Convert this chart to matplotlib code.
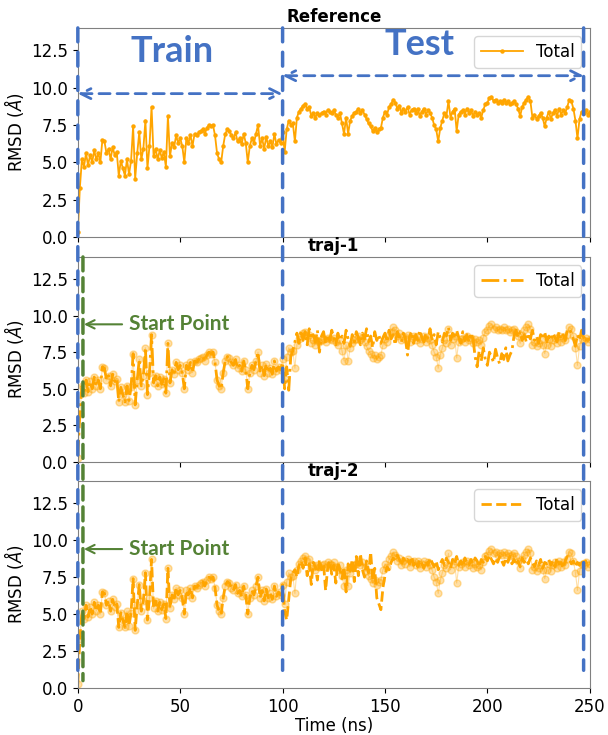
import numpy as np
import matplotlib
matplotlib.use('Agg')
import matplotlib.pyplot as plt
from matplotlib.patches import ConnectionPatch

# time axis, 1 ns steps
time_ns = np.arange(0, 251)

# reference RMSD
ref_rmsd = [
    0.3, 3.3, 5.2, 4.7, 5.6, 4.8, 5.5, 5.0, 5.8, 5.2,
    5.6, 5.0, 6.5, 6.4, 5.6, 5.9, 5.2, 6.0, 5.5, 5.7,
    4.1, 5.1, 4.6, 4.1, 5.2, 4.2, 5.1, 7.4, 3.9, 5.6,
    7.0, 5.2, 5.9, 7.8, 4.6, 6.1, 8.7, 5.4, 5.9, 5.2,
    5.8, 5.3, 5.7, 4.7, 8.1, 5.4, 6.3, 6.0, 6.8, 6.3,
    6.6, 6.1, 5.0, 6.6, 6.3, 6.8, 6.1, 6.9, 6.8, 7.0,
    7.1, 7.2, 6.9, 7.3, 7.5, 7.4, 7.5, 6.8, 5.6, 5.2,
    5.0, 6.1, 6.9, 7.2, 7.1, 6.8, 6.6, 7.0, 6.4, 6.6,
    6.2, 6.9, 6.3, 5.0, 6.1, 6.6, 6.3, 6.9, 7.5, 6.1,
    6.6, 5.9, 6.7, 6.1, 6.4, 6.0, 6.9, 6.2, 6.5, 6.3,
    7.0, 5.7, 7.2, 7.8, 7.5, 7.6, 6.4, 8.0, 8.4, 8.6,
    8.8, 8.9, 8.6, 8.7, 8.1, 8.3, 8.0, 8.3, 8.2, 8.3,
    8.4, 8.2, 8.5, 8.4, 8.3, 8.5, 8.2, 8.0, 8.3, 7.6,
    6.9, 8.0, 6.9, 7.8, 8.1, 8.3, 8.4, 8.6, 8.3, 8.5,
    8.2, 7.9, 7.6, 7.4, 7.1, 7.3, 7.0, 7.2, 7.3, 8.0,
    8.4, 8.2, 8.7, 8.9, 9.2, 9.0, 8.6, 8.8, 8.3, 8.6,
    8.4, 8.7, 8.2, 8.5, 8.6, 8.3, 8.6, 8.1, 8.4, 8.6,
    8.2, 8.5, 8.3, 8.0, 7.5, 7.2, 6.4, 7.3, 7.8, 8.3,
    8.1, 9.1, 8.0, 8.4, 8.6, 7.1, 8.2, 8.4, 8.5, 8.2,
    8.6, 8.3, 8.5, 8.1, 8.4, 8.2, 8.3, 8.0, 8.5, 8.9,
    9.0, 9.3, 9.4, 9.1, 9.2, 9.0, 9.1, 9.0, 9.2, 9.0,
    9.1, 8.9, 9.0, 9.1, 8.9, 8.6, 8.1, 8.7, 9.0, 9.2,
    9.4, 9.1, 8.0, 8.2, 7.9, 8.1, 8.3, 8.0, 7.4, 8.0,
    8.4, 7.9, 8.3, 8.5, 8.1, 8.6, 8.2, 8.5, 8.3, 8.7,
    9.2, 9.1, 8.6, 7.8, 6.6, 7.9, 8.4, 8.3, 8.5, 8.2, 8.4,
]

# generated trajectories in the test window (100-250 ns)
traj1_test = [
    6.8, 5.0, 6.5, 4.9, 7.2, 7.6, 8.2, 8.8, 8.1, 9.0,
    8.3, 8.9, 8.0, 9.1, 8.4, 8.7, 8.2, 9.0, 7.5, 8.6,
    8.9, 8.1, 8.7, 8.3, 9.0, 8.5, 8.0, 8.8, 8.3, 8.6,
    8.1, 9.0, 8.4, 7.9, 8.7, 8.2, 8.9, 8.5, 8.0, 8.8,
    8.4, 9.1, 8.2, 8.6, 7.8, 8.9, 8.3, 8.7, 8.1, 8.5,
    8.8, 8.2, 9.0, 8.4, 8.7, 8.0, 8.9, 8.5, 8.2, 8.8,
    8.4, 7.3, 8.6, 8.9, 8.1, 8.7, 8.3, 9.0, 8.5, 8.2,
    8.8, 8.4, 9.1, 8.3, 8.7, 8.0, 8.9, 8.5, 8.2, 8.8,
    8.6, 9.2, 8.3, 8.8, 8.4, 9.0, 8.5, 8.1, 8.9, 8.3,
    8.7, 8.2, 8.8, 8.4, 7.2, 6.5, 7.6, 6.9, 7.8, 7.0,
    6.6, 7.5, 7.2, 6.8, 7.7, 7.1, 6.7, 7.4, 7.0, 7.8,
    6.9, 7.3, 7.6, 8.6, 9.0, 8.5, 8.9, 8.3, 8.7, 8.2,
    8.8, 8.4, 9.0, 8.3, 8.6, 8.1, 8.7, 8.4, 8.9, 8.2,
    8.6, 8.3, 8.8, 8.5, 8.2, 8.9, 8.4, 8.7, 8.3, 9.0,
    9.1, 8.8, 8.4, 7.9, 8.7, 8.3, 9.0, 8.5, 8.2, 8.6, 8.3,
]

traj2_test = [
    7.0, 5.2, 4.6, 6.0, 7.4, 7.8, 8.0, 7.5, 8.3, 8.6,
    8.1, 8.8, 7.6, 8.4, 7.0, 8.5, 8.2, 7.3, 8.7, 8.0,
    8.4, 6.6, 8.1, 8.6, 7.7, 8.3, 7.1, 8.5, 8.0, 7.4,
    8.2, 6.5, 8.4, 7.9, 8.7, 7.2, 8.9, 7.6, 9.1, 8.0,
    7.5, 8.6, 7.8, 9.2, 7.3, 8.1, 6.1, 5.7, 5.3, 6.8,
    7.6, 8.2, 8.0, 8.5, 8.8, 8.6, 9.0, 8.7, 8.3, 8.8,
    8.5, 8.7, 8.4, 8.9, 8.3, 8.6, 8.2, 8.7, 8.4, 8.1,
    8.6, 8.3, 8.8, 8.5, 8.2, 8.6, 8.0, 8.4, 8.7, 8.3,
    8.8, 8.5, 8.1, 8.7, 8.4, 8.9, 8.3, 8.6, 8.2, 8.8,
    8.5, 8.3, 8.7, 8.4, 8.8, 8.6, 8.2, 8.7, 8.5, 8.9,
    8.6, 9.0, 8.7, 8.4, 8.8, 8.5, 8.9, 8.6, 8.3, 8.8,
    8.5, 8.9, 8.4, 8.7, 8.3, 8.6, 8.2, 8.8, 8.5, 8.7,
    8.4, 8.8, 8.5, 8.2, 8.6, 8.3, 8.7, 8.1, 8.5, 8.4,
    8.7, 8.3, 8.6, 8.2, 8.8, 8.4, 8.5, 8.1, 8.6, 8.9,
    8.7, 8.4, 8.6, 8.2, 8.5, 8.3, 8.7, 8.4, 8.6, 8.3, 8.5,
]

train_end = 100
# the trajectories follow the reference in the train window
traj1 = ref_rmsd[:train_end] + traj1_test
traj2 = ref_rmsd[:train_end] + traj2_test

titles = ['Reference', 'traj-1', 'traj-2']
split_x = [0, 100, 247]
start_x = 2.5

orange = '#FFA500'
blue = '#4472C4'
green = '#548235'

fig = plt.figure(figsize=(6.08, 7.35), dpi=100)
ax1 = fig.add_axes([0.128, 0.6776, 0.842, 0.2844])
ax2 = fig.add_axes([0.128, 0.3714, 0.842, 0.2790], sharex=ax1)
ax3 = fig.add_axes([0.128, 0.0639, 0.842, 0.2816], sharex=ax1)
axes = [ax1, ax2, ax3]

ax1.plot(time_ns, ref_rmsd, '-o', color=orange, lw=1.3, ms=2.2, label='Total')

ax2.plot(time_ns, ref_rmsd, '-o', color=orange, lw=0.8, ms=5, alpha=0.35)
ax2.plot(time_ns, traj1, '-.', color=orange, lw=2, label='Total')

ax3.plot(time_ns, ref_rmsd, '-o', color=orange, lw=0.8, ms=5, alpha=0.35)
ax3.plot(time_ns, traj2, '--', color=orange, lw=2, label='Total')

for ax, ttl in zip(axes, titles):
    ax.set_xlim(0, 250)
    ax.set_ylim(0, 14)
    ax.set_yticks([0, 2.5, 5, 7.5, 10, 12.5])
    ax.set_yticklabels(['0.0', '2.5', '5.0', '7.5', '10.0', '12.5'])
    ax.tick_params(labelsize=12)
    ax.set_ylabel(r'RMSD ($\AA$)', fontsize=12)
    ax.set_title(ttl, fontsize=12, fontweight='bold', pad=4)
    ax.legend(loc='upper right', fontsize=12, handlelength=2.5)
    for s in ax.spines.values():
        s.set_color('#808080')

ax1.tick_params(labelbottom=False)
ax2.tick_params(labelbottom=False)
ax3.set_xticks([0, 50, 100, 150, 200, 250])
ax3.set_xlabel('Time (ns)', fontsize=12, labelpad=1)

# train / test annotations
ax1.text(46, 12.4, 'Train', color=blue, fontsize=26, fontweight='bold',
         family=['Lato', 'DejaVu Sans'], ha='center', va='center')
ax1.text(167, 12.9, 'Test', color=blue, fontsize=26, fontweight='bold',
         family=['Lato', 'DejaVu Sans'], ha='center', va='center')
ax1.annotate('', xy=(100, 9.6), xytext=(0, 9.6),
             arrowprops=dict(arrowstyle='<->', color=blue, lw=2, ls=(0, (4, 2.5)),
                             shrinkA=0, shrinkB=0, mutation_scale=18))
ax1.annotate('', xy=(247, 10.8), xytext=(100, 10.8),
             arrowprops=dict(arrowstyle='<->', color=blue, lw=2, ls=(0, (4, 2.5)),
                             shrinkA=0, shrinkB=0, mutation_scale=18))

# vertical split lines across all panels
for xv in split_x:
    con = ConnectionPatch(xyA=(xv, 14), coordsA=ax1.transData,
                          xyB=(xv, 1.2), coordsB=ax3.transData,
                          color=blue, lw=2.5, ls=(0, (4, 3)))
    fig.add_artist(con)

con = ConnectionPatch(xyA=(start_x, 14), coordsA=ax2.transData,
                      xyB=(start_x, 0.5), coordsB=ax3.transData,
                      color=green, lw=2.5, ls=(0, (4, 2)))
fig.add_artist(con)

for ax in [ax2, ax3]:
    ax.annotate('Start Point', xy=(3, 9.4), xytext=(25, 9.4),
                color=green, fontsize=15, fontweight='bold',
                family=['Lato', 'DejaVu Sans'], va='center', ha='left',
                arrowprops=dict(arrowstyle='->', color=green, lw=1.5,
                                shrinkA=3, shrinkB=0))

fig.savefig('out.png', dpi=100)
